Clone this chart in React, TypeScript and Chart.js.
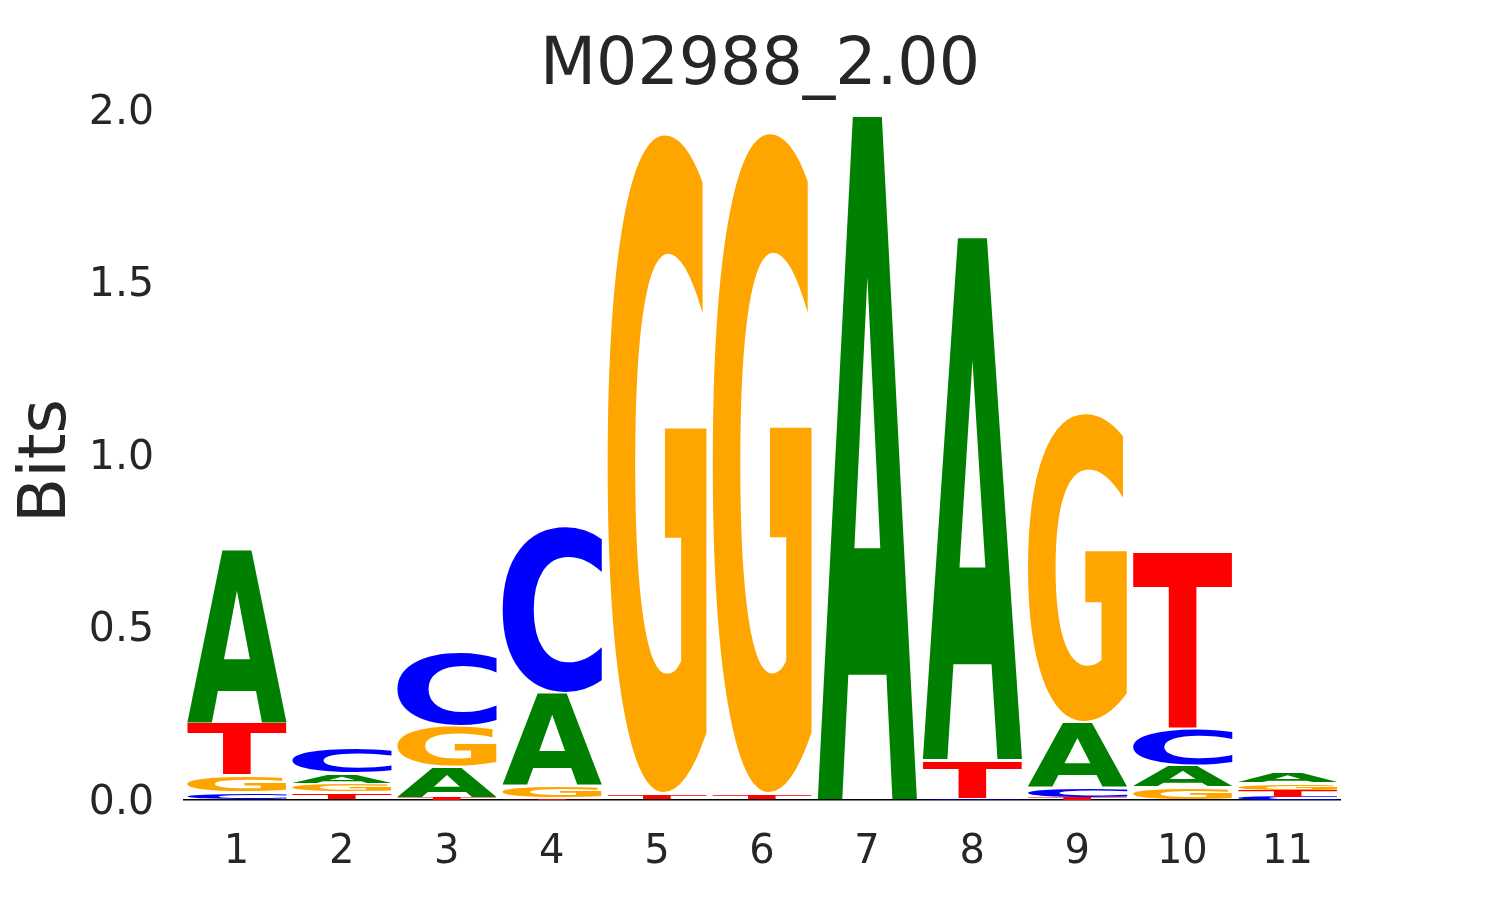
import React, { useEffect, useRef } from "react";
import { Chart, registerables } from "chart.js";

Chart.register(...registerables);

// ---- data ----
const positions = ["1", "2", "3", "4", "5", "6", "7", "8", "9", "10", "11"];
const letters = ["A", "C", "G", "T"];
const bitsA = [0.503, 0.029, 0.089, 0.269, 0, 0, 1.985, 1.517, 0.191, 0.061, 0.030];
const bitsC = [0.021, 0.074, 0.214, 0.485, 0, 0, 0, 0.003, 0.028, 0.107, 0.010];
const bitsG = [0.050, 0.025, 0.118, 0.037, 1.918, 1.922, 0, 0, 0.899, 0.038, 0.022];
const bitsT = [0.153, 0.022, 0.006, 0.004, 0.018, 0.018, 0, 0.113, 0.006, 0.516, 0.017];
const yTickLabels = ["0.0", "0.5", "1.0", "1.5", "2.0"];
const titleText = "M02988_2.00";
const yAxisLabel = "Bits";
const letterColors: Record<string, string> = {
  A: "#008000",
  C: "#0000ff",
  G: "#ffa500",
  T: "#ff0000",
};

const TEXT_COLOR = "#262626";
const FONT = "'DejaVu Sans', 'Liberation Sans', sans-serif";

function buildDatasets() {
  const series: Record<string, number[]> = { A: bitsA, C: bitsC, G: bitsG, T: bitsT };
  const sortedCols = positions.map((_, i) =>
    letters
      .map((l) => ({ l, v: series[l][i] }))
      .sort((a, b) => a.v - b.v)
  );
  const ds: any[] = [];
  for (let r = 0; r < 4; r++) {
    ds.push({
      label: "rank" + r,
      data: sortedCols.map((c) => c[r].v),
      glyphs: sortedCols.map((c) => c[r].l),
      backgroundColor: "rgba(0,0,0,0)",
      borderWidth: 0,
      barPercentage: 0.95,
      categoryPercentage: 1.0,
    });
  }
  return ds;
}

const glyphPlugin = {
  id: "logoGlyphs",
  afterDatasetsDraw(chart: any) {
    const ctx = chart.ctx as CanvasRenderingContext2D;
    chart.data.datasets.forEach((ds: any, d: number) => {
      const meta = chart.getDatasetMeta(d);
      meta.data.forEach((el: any, i: number) => {
        const letter = ds.glyphs[i];
        const p = el.getProps(["x", "y", "base", "width"], true);
        const top = Math.min(p.y, p.base);
        const bottom = Math.max(p.y, p.base);
        const h = bottom - top;
        if (!(h > 0.4)) return;
        const inset = h > 6 ? 1 : 0;
        ctx.save();
        ctx.font = `bold 200px ${FONT}`;
        ctx.textAlign = "left";
        ctx.textBaseline = "alphabetic";
        const m = ctx.measureText(letter);
        const L = m.actualBoundingBoxLeft;
        const R = m.actualBoundingBoxRight;
        const A = m.actualBoundingBoxAscent;
        const D = m.actualBoundingBoxDescent;
        const inkW = L + R;
        const inkH = A + D;
        ctx.translate(p.x - p.width / 2, top + inset);
        ctx.scale(p.width / inkW, (h - 2 * inset) / inkH);
        ctx.fillStyle = letterColors[letter];
        ctx.fillText(letter, L, A);
        ctx.restore();
      });
    });
  },
  afterDraw(chart: any) {
    const ctx = chart.ctx as CanvasRenderingContext2D;
    const ca = chart.chartArea;
    ctx.save();
    ctx.fillStyle = TEXT_COLOR;
    ctx.font = `65px ${FONT}`;
    ctx.textAlign = "center";
    ctx.textBaseline = "alphabetic";
    ctx.fillText(titleText, (ca.left + ca.right) / 2 - 2, 84);
    ctx.translate(65, 461);
    ctx.rotate(-Math.PI / 2);
    ctx.font = `66px ${FONT}`;
    ctx.fillText(yAxisLabel, 0, 0);
    ctx.restore();
  },
};

export default function App() {
  const canvasRef = useRef<HTMLCanvasElement | null>(null);

  useEffect(() => {
    if (!canvasRef.current) return;
    const chart = new Chart(canvasRef.current, {
      type: "bar",
      data: {
        labels: positions,
        datasets: buildDatasets(),
      },
      options: {
        animation: false,
        responsive: false,
        devicePixelRatio: 1,
        events: [],
        layout: { padding: { top: 110, right: 145, left: 0, bottom: 0 } },
        plugins: {
          legend: { display: false },
          tooltip: { enabled: false },
          title: { display: false },
        },
        scales: {
          x: {
            type: "category",
            stacked: true,
            offset: true,
            grid: { display: false, drawTicks: false },
            border: { display: true, color: "#000000", width: 1.5 },
            ticks: {
              color: TEXT_COLOR,
              font: { family: FONT, size: 40 },
              padding: 29,
              maxRotation: 0,
              autoSkip: false,
            },
            afterFit: (s: any) => {
              s.height = 100;
            },
          },
          y: {
            stacked: true,
            min: 0,
            max: 2,
            grid: { display: false, drawTicks: false },
            border: { display: false },
            ticks: {
              stepSize: 0.5,
              color: TEXT_COLOR,
              font: { family: FONT, size: 41 },
              padding: 30,
              labelOffset: 3,
              callback: (v: any) => yTickLabels[Math.round(Number(v) / 0.5)],
            },
            afterFit: (s: any) => {
              s.width = 184;
            },
          },
        },
      } as any,
      plugins: [glyphPlugin],
    });
    return () => chart.destroy();
  }, []);

  return (
    <div style={{ position: "absolute", left: 0, top: 0, width: 1485, height: 900, background: "#fff" }}>
      <canvas ref={canvasRef} width={1485} height={900} />
    </div>
  );
}
